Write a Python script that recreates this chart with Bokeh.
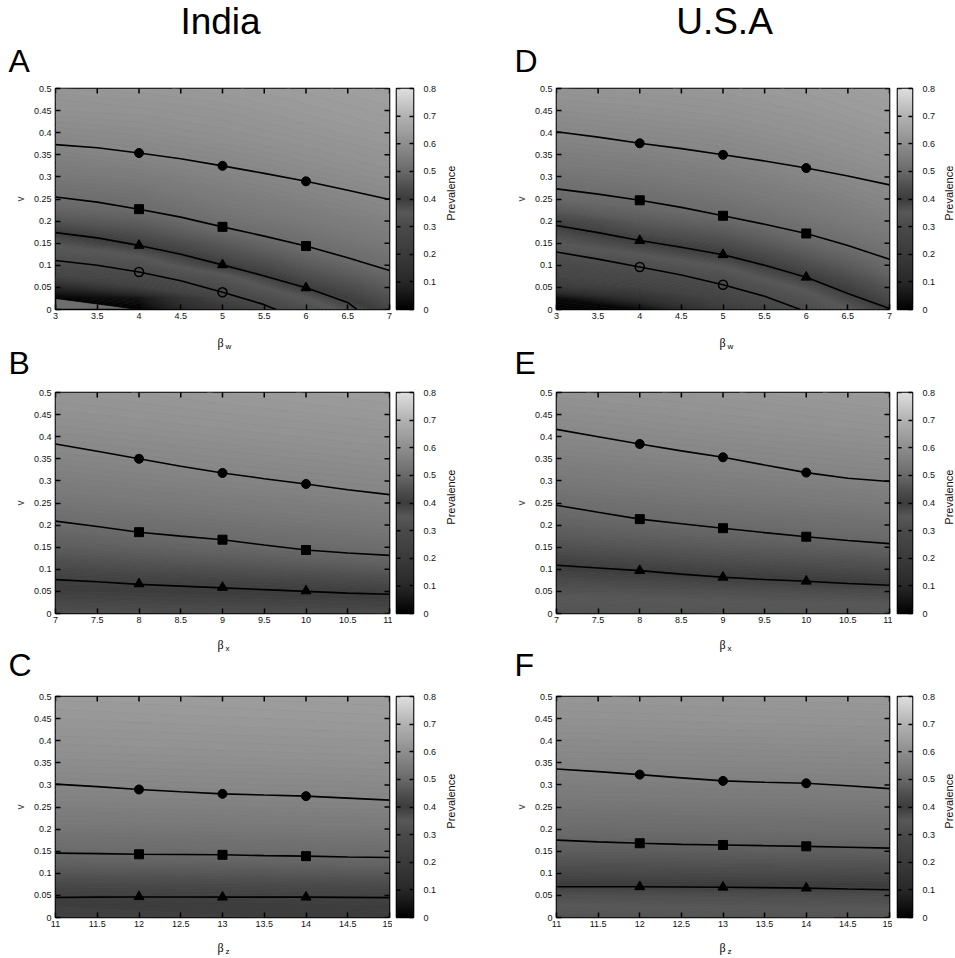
import math
import numpy as np
from bokeh.plotting import figure
from bokeh.models import FixedTicker, Range1d, LinearColorMapper
from bokeh.layouts import row, column
from bokeh.embed import file_html
from bokeh.resources import INLINE
from bokeh.core.properties import value

# ---------------------------------------------------------------- data
COUNTRIES = ["India", "U.S.A"]
PANEL_LETTERS = [["A", "B", "C"], ["D", "E", "F"]]
PARAM_SUBSCRIPTS = ["w", "x", "z"]

# transmission-rate ranges and ticks for the three rows
BETA_W_TICKS = [3, 3.5, 4, 4.5, 5, 5.5, 6, 6.5, 7]
BETA_W_LABELS = ["3", "3.5", "4", "4.5", "5", "5.5", "6", "6.5", "7"]
BETA_X_TICKS = [7, 7.5, 8, 8.5, 9, 9.5, 10, 10.5, 11]
BETA_X_LABELS = ["7", "7.5", "8", "8.5", "9", "9.5", "10", "10.5", "11"]
BETA_Z_TICKS = [11, 11.5, 12, 12.5, 13, 13.5, 14, 14.5, 15]
BETA_Z_LABELS = ["11", "11.5", "12", "12.5", "13", "13.5", "14", "14.5", "15"]

V_TICKS = [0, 0.05, 0.1, 0.15, 0.2, 0.25, 0.3, 0.35, 0.4, 0.45, 0.5]
V_LABELS = ["0", "0.05", "0.1", "0.15", "0.2", "0.25", "0.3", "0.35", "0.4", "0.45", "0.5"]

PREV_TICKS = [0, 0.1, 0.2, 0.3, 0.4, 0.5, 0.6, 0.7, 0.8]
PREV_LABELS = ["0", "0.1", "0.2", "0.3", "0.4", "0.5", "0.6", "0.7", "0.8"]

# grey palette of the prevalence scale (stop -> grey level)
PALETTE_STOPS = [0.0, 0.05, 0.1, 0.15, 0.2, 0.25, 0.3, 0.35, 0.4, 0.45, 0.5, 0.6, 0.7, 0.8]
PALETTE_GREYS = [0, 22, 40, 50, 58, 66, 74, 88, 60, 80, 105, 142, 178, 222]

# v values of the rows of every prevalence grid
V_GRID = [0.0, 0.025, 0.05, 0.075, 0.1, 0.125, 0.15, 0.175, 0.2, 0.225, 0.25,
          0.275, 0.3, 0.325, 0.35, 0.375, 0.4, 0.425, 0.45, 0.475, 0.5]

# ---- India, beta_w
india_w_field_cols = [3, 4, 5, 6, 7]
india_w_field = [
    [0.00, 0.00, 0.10, 0.27, 0.305, 0.33, 0.36, 0.40, 0.46, 0.49, 0.51, 0.525, 0.54, 0.555, 0.565, 0.58, 0.59, 0.60, 0.61, 0.615, 0.625],
    [0.00, 0.04, 0.24, 0.29, 0.32, 0.355, 0.41, 0.45, 0.48, 0.505, 0.52, 0.535, 0.55, 0.565, 0.578, 0.588, 0.597, 0.605, 0.613, 0.62, 0.628],
    [0.18, 0.26, 0.30, 0.34, 0.40, 0.44, 0.47, 0.50, 0.52, 0.535, 0.548, 0.56, 0.57, 0.58, 0.59, 0.60, 0.607, 0.614, 0.62, 0.627, 0.633],
    [0.31, 0.35, 0.40, 0.44, 0.47, 0.495, 0.515, 0.53, 0.545, 0.557, 0.568, 0.578, 0.588, 0.597, 0.605, 0.612, 0.62, 0.626, 0.632, 0.637, 0.642],
    [0.42, 0.45, 0.475, 0.495, 0.515, 0.53, 0.545, 0.557, 0.568, 0.578, 0.587, 0.596, 0.604, 0.612, 0.619, 0.626, 0.632, 0.638, 0.643, 0.648, 0.652],
]
india_w_x = [3, 3.5, 4, 4.5, 5, 5.5, 6, 6.5, 7]
india_w_circle = [0.373, 0.366, 0.354, 0.341, 0.325, 0.308, 0.290, 0.270, 0.249]
india_w_square = [0.2545, 0.243, 0.227, 0.209, 0.187, 0.166, 0.1435, 0.117, 0.088]
india_w_tri_x = [3, 3.5, 4, 4.5, 5, 5.5, 6, 6.5, 6.61]
india_w_tri = [0.174, 0.162, 0.145, 0.125, 0.101, 0.076, 0.049, 0.016, 0.0]
india_w_open_x = [3, 3.5, 4, 4.5, 5, 5.5, 5.64]
india_w_open = [0.111, 0.100, 0.085, 0.065, 0.039, 0.011, 0.0]
india_w_mark_x = [4, 5, 6]
india_w_mark_circle = [0.354, 0.325, 0.290]
india_w_mark_square = [0.227, 0.187, 0.1435]
india_w_mark_tri = [0.145, 0.101, 0.049]
india_w_mark_open_x = [4, 5]
india_w_mark_open = [0.085, 0.039]

# ---- India, beta_x
india_x_field_cols = [7, 9, 11]
india_x_field = [
    [0.365, 0.38, 0.395, 0.41, 0.43, 0.455, 0.475, 0.49, 0.505, 0.52, 0.533, 0.545, 0.556, 0.566, 0.575, 0.584, 0.592, 0.60, 0.607, 0.614, 0.62],
    [0.37, 0.385, 0.40, 0.42, 0.45, 0.475, 0.495, 0.51, 0.525, 0.538, 0.55, 0.561, 0.571, 0.58, 0.589, 0.597, 0.605, 0.612, 0.619, 0.625, 0.631],
    [0.375, 0.39, 0.41, 0.44, 0.47, 0.495, 0.513, 0.528, 0.542, 0.555, 0.566, 0.576, 0.585, 0.594, 0.602, 0.609, 0.616, 0.623, 0.629, 0.635, 0.64],
]
india_x_x = [7, 7.5, 8, 8.5, 9, 9.5, 10, 10.5, 11]
india_x_circle = [0.3835, 0.367, 0.350, 0.333, 0.318, 0.305, 0.293, 0.280, 0.269]
india_x_square = [0.209, 0.197, 0.184, 0.175, 0.167, 0.155, 0.1436, 0.137, 0.1316]
india_x_tri = [0.0767, 0.072, 0.066, 0.062, 0.058, 0.054, 0.050, 0.046, 0.0436]
india_x_mark_x = [8, 9, 10]
india_x_mark_circle = [0.350, 0.318, 0.293]
india_x_mark_square = [0.184, 0.167, 0.1436]
india_x_mark_tri = [0.067, 0.059, 0.051]

# ---- India, beta_z
india_z_field_cols = [11, 13, 15]
india_z_field = [
    [0.39, 0.395, 0.41, 0.43, 0.46, 0.485, 0.505, 0.52, 0.535, 0.548, 0.56, 0.57, 0.58, 0.589, 0.597, 0.605, 0.612, 0.619, 0.625, 0.631, 0.637],
    [0.394, 0.399, 0.414, 0.434, 0.464, 0.489, 0.509, 0.524, 0.539, 0.552, 0.564, 0.574, 0.584, 0.593, 0.601, 0.609, 0.616, 0.623, 0.629, 0.635, 0.641],
    [0.398, 0.403, 0.418, 0.438, 0.468, 0.493, 0.513, 0.528, 0.543, 0.556, 0.568, 0.578, 0.588, 0.597, 0.605, 0.613, 0.62, 0.627, 0.633, 0.639, 0.645],
]
india_z_x = [11, 11.5, 12, 12.5, 13, 13.5, 14, 14.5, 15]
india_z_circle = [0.3017, 0.296, 0.2896, 0.2845, 0.2798, 0.277, 0.2745, 0.270, 0.2655]
india_z_square = [0.1456, 0.1445, 0.143, 0.1424, 0.1418, 0.140, 0.1388, 0.137, 0.1357]
india_z_tri = [0.0452, 0.046, 0.0465, 0.0465, 0.046, 0.046, 0.046, 0.0455, 0.045]
india_z_mark_x = [12, 13, 14]
india_z_mark_circle = [0.2896, 0.2798, 0.2745]
india_z_mark_square = [0.143, 0.1418, 0.1388]
india_z_mark_tri = [0.047, 0.046, 0.046]

# ---- U.S.A, beta_w
usa_w_field_cols = [3, 4, 5, 6, 7]
usa_w_field = [
    [0.0, 0.02, 0.20, 0.27, 0.295, 0.32, 0.35, 0.375, 0.42, 0.47, 0.50, 0.515, 0.53, 0.545, 0.557, 0.568, 0.58, 0.59, 0.60, 0.61, 0.62],
    [0.02, 0.14, 0.25, 0.29, 0.315, 0.35, 0.39, 0.44, 0.47, 0.495, 0.512, 0.527, 0.54, 0.553, 0.565, 0.577, 0.588, 0.598, 0.607, 0.615, 0.623],
    [0.2, 0.26, 0.29, 0.32, 0.355, 0.40, 0.44, 0.47, 0.495, 0.515, 0.53, 0.543, 0.555, 0.567, 0.578, 0.588, 0.597, 0.606, 0.614, 0.621, 0.628],
    [0.30, 0.33, 0.36, 0.40, 0.44, 0.47, 0.495, 0.515, 0.53, 0.543, 0.555, 0.566, 0.577, 0.587, 0.596, 0.604, 0.612, 0.619, 0.626, 0.632, 0.638],
    [0.40, 0.43, 0.46, 0.485, 0.505, 0.52, 0.535, 0.548, 0.56, 0.571, 0.581, 0.59, 0.599, 0.607, 0.615, 0.622, 0.629, 0.635, 0.641, 0.646, 0.651],
]
usa_w_x = [3, 3.5, 4, 4.5, 5, 5.5, 6, 6.5, 7]
usa_w_circle = [0.402, 0.390, 0.376, 0.364, 0.350, 0.336, 0.320, 0.302, 0.282]
usa_w_square = [0.273, 0.261, 0.247, 0.231, 0.212, 0.193, 0.172, 0.145, 0.1135]
usa_w_tri_x = [3, 3.5, 4, 4.5, 5, 5.5, 6, 6.5, 7]
usa_w_tri = [0.190, 0.174, 0.156, 0.141, 0.124, 0.100, 0.073, 0.036, 0.002]
usa_w_open_x = [3, 3.5, 4, 4.5, 5, 5.5, 5.93]
usa_w_open = [0.130, 0.114, 0.096, 0.078, 0.056, 0.030, 0.0]
usa_w_mark_x = [4, 5, 6]
usa_w_mark_circle = [0.376, 0.350, 0.320]
usa_w_mark_square = [0.247, 0.212, 0.172]
usa_w_mark_tri = [0.156, 0.124, 0.073]
usa_w_mark_open_x = [4, 5]
usa_w_mark_open = [0.096, 0.056]

# ---- U.S.A, beta_x
usa_x_field_cols = [7, 9, 11]
usa_x_field = [
    [0.33, 0.345, 0.36, 0.375, 0.395, 0.42, 0.45, 0.47, 0.485, 0.50, 0.515, 0.528, 0.54, 0.551, 0.562, 0.572, 0.581, 0.59, 0.598, 0.606, 0.613],
    [0.335, 0.35, 0.365, 0.39, 0.42, 0.45, 0.47, 0.488, 0.505, 0.52, 0.533, 0.545, 0.556, 0.567, 0.577, 0.586, 0.595, 0.603, 0.61, 0.617, 0.624],
    [0.34, 0.355, 0.375, 0.41, 0.44, 0.465, 0.487, 0.505, 0.52, 0.535, 0.548, 0.56, 0.571, 0.581, 0.59, 0.599, 0.607, 0.615, 0.622, 0.628, 0.634],
]
usa_x_x = [7, 7.5, 8, 8.5, 9, 9.5, 10, 10.5, 11]
usa_x_circle = [0.4165, 0.400, 0.3835, 0.368, 0.3534, 0.336, 0.3188, 0.306, 0.2985]
usa_x_square = [0.245, 0.229, 0.2135, 0.203, 0.193, 0.183, 0.1737, 0.165, 0.158]
usa_x_tri = [0.109, 0.103, 0.097, 0.089, 0.082, 0.077, 0.073, 0.068, 0.064]
usa_x_mark_x = [8, 9, 10]
usa_x_mark_circle = [0.3835, 0.3534, 0.3188]
usa_x_mark_square = [0.2135, 0.193, 0.1737]
usa_x_mark_tri = [0.097, 0.082, 0.073]

# ---- U.S.A, beta_z
usa_z_field_cols = [11, 13, 15]
usa_z_field = [
    [0.33, 0.35, 0.365, 0.40, 0.43, 0.455, 0.475, 0.492, 0.507, 0.52, 0.533, 0.545, 0.556, 0.566, 0.576, 0.585, 0.594, 0.602, 0.61, 0.617, 0.624],
    [0.333, 0.353, 0.368, 0.402, 0.433, 0.458, 0.478, 0.495, 0.51, 0.523, 0.536, 0.548, 0.559, 0.569, 0.579, 0.588, 0.597, 0.605, 0.613, 0.62, 0.627],
    [0.336, 0.356, 0.372, 0.405, 0.436, 0.461, 0.481, 0.498, 0.513, 0.526, 0.539, 0.551, 0.562, 0.572, 0.582, 0.591, 0.60, 0.608, 0.616, 0.623, 0.63],
]
usa_z_x = [11, 11.5, 12, 12.5, 13, 13.5, 14, 14.5, 15]
usa_z_circle = [0.336, 0.330, 0.3233, 0.316, 0.309, 0.306, 0.3036, 0.298, 0.2915]
usa_z_square = [0.175, 0.171, 0.168, 0.1655, 0.164, 0.1625, 0.161, 0.159, 0.157]
usa_z_tri = [0.0695, 0.0695, 0.0695, 0.069, 0.0685, 0.0675, 0.0665, 0.0645, 0.0627]
usa_z_mark_x = [12, 13, 14]
usa_z_mark_circle = [0.3233, 0.309, 0.3036]
usa_z_mark_square = [0.168, 0.164, 0.161]
usa_z_mark_tri = [0.0695, 0.0685, 0.0665]

# ---------------------------------------------------------------- panel table
def panel_spec(ticks, labels, cols, field, lines, marks):
    return dict(ticks=ticks, labels=labels, cols=cols, field=field, lines=lines, marks=marks)

PANELS = [
    [
        panel_spec(BETA_W_TICKS, BETA_W_LABELS, india_w_field_cols, india_w_field,
                   {"circle": (india_w_x, india_w_circle), "square": (india_w_x, india_w_square),
                    "triangle": (india_w_tri_x, india_w_tri), "open": (india_w_open_x, india_w_open)},
                   {"circle": (india_w_mark_x, india_w_mark_circle), "square": (india_w_mark_x, india_w_mark_square),
                    "triangle": (india_w_mark_x, india_w_mark_tri), "open": (india_w_mark_open_x, india_w_mark_open)}),
        panel_spec(BETA_X_TICKS, BETA_X_LABELS, india_x_field_cols, india_x_field,
                   {"circle": (india_x_x, india_x_circle), "square": (india_x_x, india_x_square),
                    "triangle": (india_x_x, india_x_tri)},
                   {"circle": (india_x_mark_x, india_x_mark_circle), "square": (india_x_mark_x, india_x_mark_square),
                    "triangle": (india_x_mark_x, india_x_mark_tri)}),
        panel_spec(BETA_Z_TICKS, BETA_Z_LABELS, india_z_field_cols, india_z_field,
                   {"circle": (india_z_x, india_z_circle), "square": (india_z_x, india_z_square),
                    "triangle": (india_z_x, india_z_tri)},
                   {"circle": (india_z_mark_x, india_z_mark_circle), "square": (india_z_mark_x, india_z_mark_square),
                    "triangle": (india_z_mark_x, india_z_mark_tri)}),
    ],
    [
        panel_spec(BETA_W_TICKS, BETA_W_LABELS, usa_w_field_cols, usa_w_field,
                   {"circle": (usa_w_x, usa_w_circle), "square": (usa_w_x, usa_w_square),
                    "triangle": (usa_w_tri_x, usa_w_tri), "open": (usa_w_open_x, usa_w_open)},
                   {"circle": (usa_w_mark_x, usa_w_mark_circle), "square": (usa_w_mark_x, usa_w_mark_square),
                    "triangle": (usa_w_mark_x, usa_w_mark_tri), "open": (usa_w_mark_open_x, usa_w_mark_open)}),
        panel_spec(BETA_X_TICKS, BETA_X_LABELS, usa_x_field_cols, usa_x_field,
                   {"circle": (usa_x_x, usa_x_circle), "square": (usa_x_x, usa_x_square),
                    "triangle": (usa_x_x, usa_x_tri)},
                   {"circle": (usa_x_mark_x, usa_x_mark_circle), "square": (usa_x_mark_x, usa_x_mark_square),
                    "triangle": (usa_x_mark_x, usa_x_mark_tri)}),
        panel_spec(BETA_Z_TICKS, BETA_Z_LABELS, usa_z_field_cols, usa_z_field,
                   {"circle": (usa_z_x, usa_z_circle), "square": (usa_z_x, usa_z_square),
                    "triangle": (usa_z_x, usa_z_tri)},
                   {"circle": (usa_z_mark_x, usa_z_mark_circle), "square": (usa_z_mark_x, usa_z_mark_square),
                    "triangle": (usa_z_mark_x, usa_z_mark_tri)}),
    ],
]

# ---------------------------------------------------------------- styling / layout
SANS = "Liberation Sans"
SERIF = "Liberation Serif"
TICK_FONT = "9px"
PAGE_W = 955
FRAME_H = 221
PANEL_TOP, PANEL_BOTTOM = 6, 19
PANEL_H = PANEL_TOP + FRAME_H + PANEL_BOTTOM
BASELINE_SHIFT = 0.4   # text glyphs sit this many em below the requested baseline
COLS = [
    dict(panel_w=392, panel_left=55, bar_fig_w=49, bar_left=4, bar_w=17, label_fig_w=36, label_x=9,
         letter_x=8, title_x=220, beta_x=222),
    dict(panel_w=415, panel_left=79, bar_fig_w=46, bar_left=5, bar_w=18, label_fig_w=17, label_x=10,
         letter_x=514, title_x=724, beta_x=724),
]

def grey_hex(level):
    g = int(round(float(np.interp(level, PALETTE_STOPS, PALETTE_GREYS))))
    return "#%02x%02x%02x" % (g, g, g)

SHADE_LEVELS = np.linspace(PREV_TICKS[0], PREV_TICKS[-1], 161)
SHADE_FILLS = [grey_hex((a + b) / 2) for a, b in zip(SHADE_LEVELS[:-1], SHADE_LEVELS[1:])]
SHADE_EDGES = [grey_hex(l) for l in SHADE_LEVELS]
BAR_PALETTE = [grey_hex(l) for l in np.linspace(PREV_TICKS[0], PREV_TICKS[-1], 256)]
bar_mapper = LinearColorMapper(palette=BAR_PALETTE, low=PREV_TICKS[0], high=PREV_TICKS[-1])

MARKER_STYLE = {
    "circle": dict(marker="circle", size=9, fill_color="black", line_width=1),
    "square": dict(marker="square", size=9, fill_color="black", line_width=1),
    "triangle": dict(marker="triangle", size=10, fill_color="black", line_width=1),
    "open": dict(marker="circle", size=9, fill_color=None, line_width=1.6),
}


def style_axis(ax, standoff=4):
    ax.axis_line_color = None
    ax.major_tick_in = 5
    ax.major_tick_out = 0
    ax.major_tick_line_color = "black"
    ax.major_tick_line_width = 1.5
    ax.minor_tick_line_color = None
    ax.major_label_text_font = SANS
    ax.major_label_text_font_size = TICK_FONT
    ax.major_label_text_color = "#111111"
    ax.major_label_standoff = standoff


def make_panel(spec, col):
    lay = COLS[col]
    x0, x1 = spec["ticks"][0], spec["ticks"][-1]
    p = figure(width=lay["panel_w"], height=PANEL_H, x_range=(x0, x1), y_range=(V_TICKS[0], V_TICKS[-1]),
               output_backend="svg", toolbar_location=None, title=None,
               min_border_left=lay["panel_left"], min_border_right=3,
               min_border_top=PANEL_TOP, min_border_bottom=PANEL_BOTTOM)
    p.grid.visible = False
    p.outline_line_color = "black"
    p.outline_line_width = 1.6
    p.border_fill_color = "white"
    p.background_fill_color = "#6e6e6e"

    # prevalence surface, shaded in thin filled bands
    grid = np.array(spec["field"], dtype=float).T
    p.contour(x=spec["cols"], y=V_GRID, z=grid, levels=SHADE_LEVELS,
              fill_color=SHADE_FILLS, line_color=SHADE_EDGES, line_width=0.8)

    # curves and their markers
    for key in ["circle", "square", "triangle", "open"]:
        if key not in spec["lines"]:
            continue
        lx, ly = spec["lines"][key]
        p.line(lx, ly, line_color="black", line_width=1.6)
        mx, my = spec["marks"][key]
        p.scatter(mx, my, line_color="black", **MARKER_STYLE[key])

    # mirrored inward ticks on the top and right edges
    p.scatter(spec["ticks"], [V_TICKS[-1]] * len(spec["ticks"]), marker="dash", angle=math.pi / 2,
              size=10, line_color="black", line_width=1.5)
    p.scatter([x1] * len(V_TICKS), V_TICKS, marker="dash", size=10, line_color="black", line_width=1.5)

    xa, ya = p.xaxis[0], p.yaxis[0]
    xa.ticker = FixedTicker(ticks=spec["ticks"])
    xa.major_label_overrides = dict(zip(spec["ticks"], spec["labels"]))
    ya.ticker = FixedTicker(ticks=V_TICKS)
    ya.major_label_overrides = dict(zip(V_TICKS, V_LABELS))
    style_axis(xa, 3)
    style_axis(ya, 4)
    ya.axis_label = "v"
    ya.axis_label_text_font = SANS
    ya.axis_label_text_font_style = "normal"
    ya.axis_label_text_font_size = "10px"
    ya.axis_label_standoff = 5
    return p


def make_bar(col):
    lay = COLS[col]
    lo, hi = PREV_TICKS[0], PREV_TICKS[-1]
    b = figure(width=lay["bar_fig_w"], height=PANEL_H, x_range=(0, 1), y_range=(lo, hi),
               output_backend="svg", toolbar_location=None, title=None,
               x_axis_location=None, y_axis_location="right",
               min_border_left=lay["bar_left"], min_border_right=lay["bar_fig_w"] - lay["bar_left"] - lay["bar_w"],
               min_border_top=PANEL_TOP, min_border_bottom=PANEL_BOTTOM)
    b.grid.visible = False
    b.outline_line_color = "black"
    b.outline_line_width = 1.6
    b.border_fill_color = "white"
    scale = np.linspace(lo, hi, 256).reshape(256, 1)
    b.image(image=[scale], x=0, y=lo, dw=1, dh=hi - lo, color_mapper=bar_mapper)
    b.scatter([0] * len(PREV_TICKS), PREV_TICKS, marker="dash", size=8, line_color="black", line_width=1.5)
    ax = b.yaxis[0]
    ax.ticker = FixedTicker(ticks=PREV_TICKS)
    ax.major_label_overrides = dict(zip(PREV_TICKS, PREV_LABELS))
    style_axis(ax, 10)
    ax.major_tick_in = 4
    return b


def make_bar_label(col):
    lay = COLS[col]
    w = lay["label_fig_w"]
    s = figure(width=w, height=PANEL_H, x_range=Range1d(0, w), y_range=Range1d(PANEL_H, 0),
               output_backend="svg", toolbar_location=None, title=None, min_border=0,
               x_axis_location=None, y_axis_location=None)
    s.grid.visible = False
    s.outline_line_color = None
    s.background_fill_color = "white"
    s.border_fill_color = "white"
    s.text(x=[lay["label_x"]], y=[PANEL_TOP + FRAME_H / 2], text=["Prevalence"], angle=math.pi / 2,
           text_align="center", text_baseline="middle", text_font=value(SANS),
           text_font_size=value("11px"), text_color="#111111")
    return s


def make_strip(height, items):
    s = figure(width=PAGE_W, height=height, x_range=Range1d(0, PAGE_W), y_range=Range1d(height, 0),
               output_backend="svg", toolbar_location=None, title=None, min_border=0,
               x_axis_location=None, y_axis_location=None)
    s.grid.visible = False
    s.outline_line_color = None
    s.background_fill_color = "white"
    s.border_fill_color = "white"
    for x, y, txt, font, size, align in items:
        s.text(x=[x], y=[y - BASELINE_SHIFT * size], text=[txt], text_align=align, text_baseline="alphabetic",
               text_font=value(font), text_font_size=value("%dpx" % size), text_color="black")
    return s


def beta_items(row_i, base_y):
    items = []
    for lay in COLS:
        items.append((lay["beta_x"] + 1, base_y, "β", SERIF, 12, "right"))
        items.append((lay["beta_x"] + 3, base_y + 2, PARAM_SUBSCRIPTS[row_i], SANS, 8, "left"))
    return items


def letter_items(row_i, base_y):
    return [(COLS[c]["letter_x"], base_y, PANEL_LETTERS[c][row_i], SANS, 32, "left") for c in range(2)]


# text strips between the panel rows (y measured downward from each strip's top)
header = make_strip(82, [(COLS[c]["title_x"], 36, COUNTRIES[c], SANS, 37, "center") for c in range(2)]
                    + letter_items(0, 73))
strip2 = make_strip(58, beta_items(0, 19) + letter_items(1, 47))
strip3 = make_strip(58, beta_items(1, 17) + letter_items(2, 45))
strip4 = make_strip(22, beta_items(2, 16))

panel_rows = []
for r in range(3):
    panel_rows.append(row(make_panel(PANELS[0][r], 0), make_bar(0), make_bar_label(0),
                          make_panel(PANELS[1][r], 1), make_bar(1), make_bar_label(1)))

layout = column(header, panel_rows[0], strip2, panel_rows[1], strip3, panel_rows[2], strip4)

open("out.html", "w").write(file_html(layout, INLINE))
